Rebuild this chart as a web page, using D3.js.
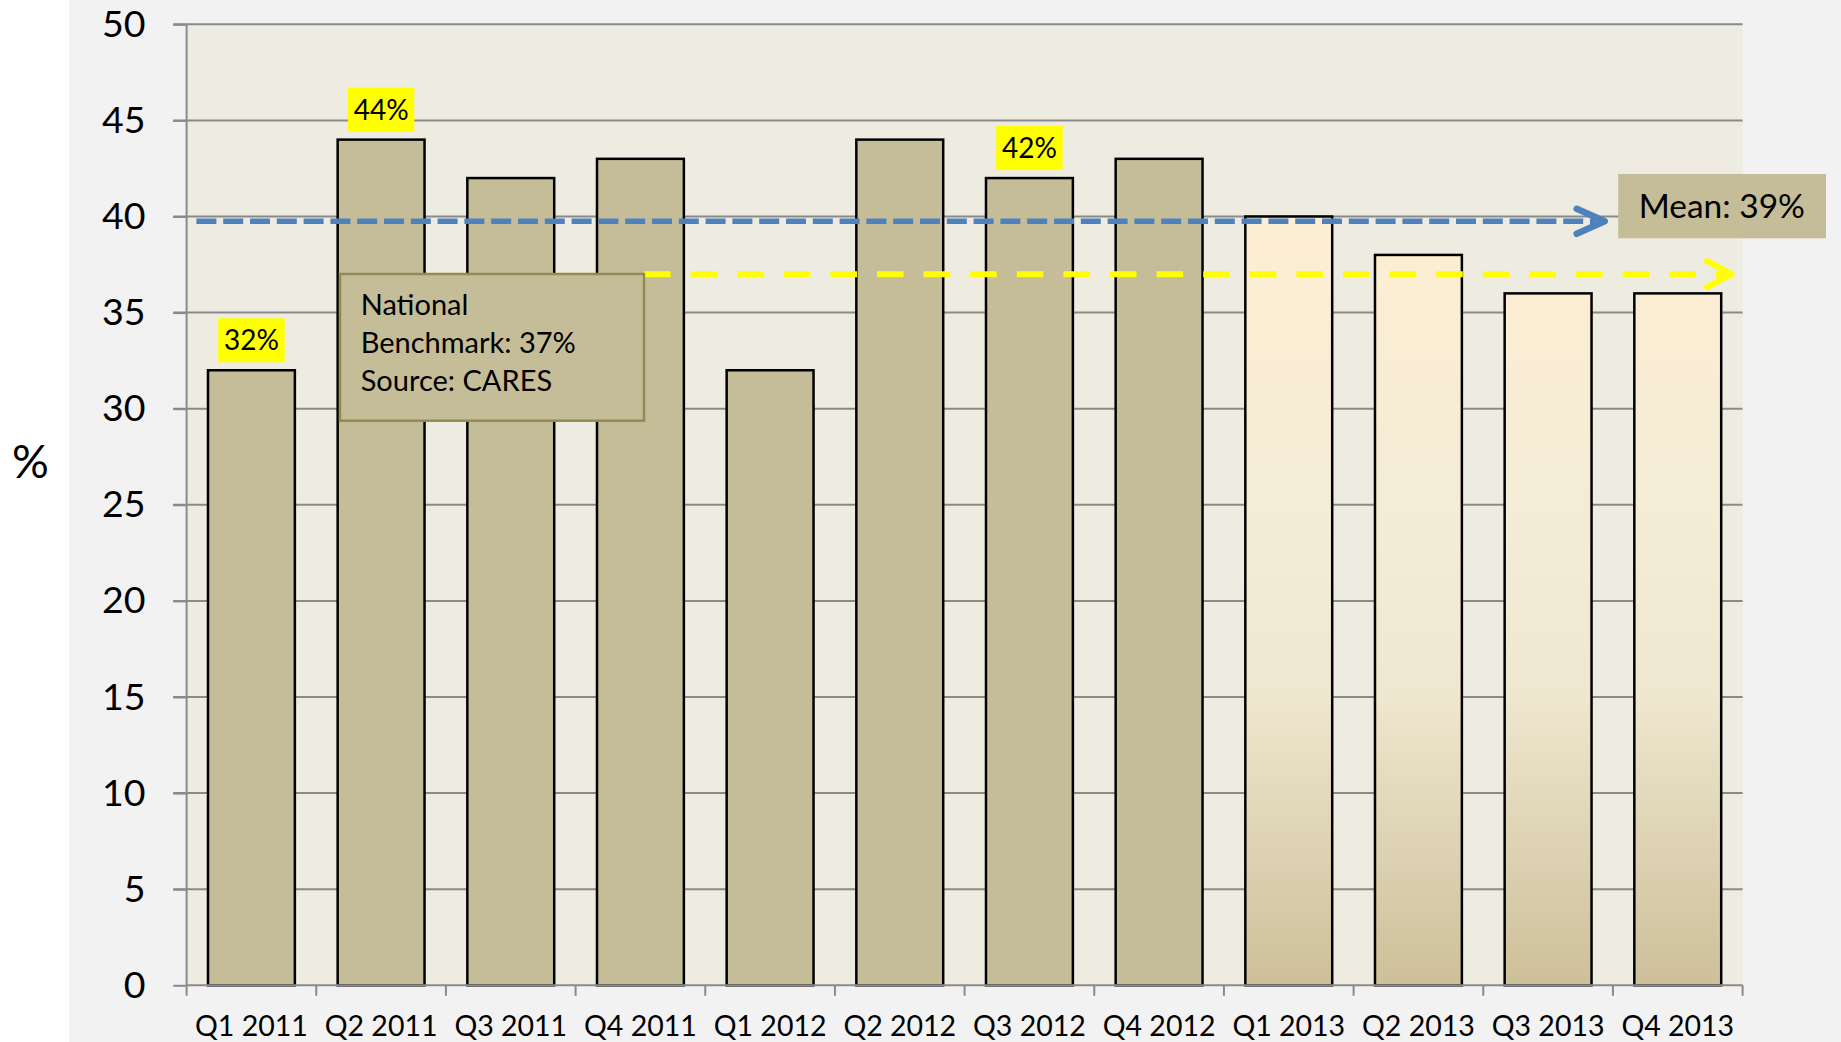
<!DOCTYPE html>
<html lang="en">
<head>
  <meta charset="UTF-8" />
  <title>Quarterly percentage with mean and national benchmark</title>
  <script src="https://d3js.org/d3.v7.min.js"></script>
  <style>
    body { margin: 0; background: #fff; font-family: Lato, "Noto Sans", sans-serif; }
    svg { display: block; }
  </style>
</head>
<body>
  <svg width="1841" height="1042"></svg>
  <script>
    // data
    const quarters = ["Q1 2011", "Q2 2011", "Q3 2011", "Q4 2011", "Q1 2012", "Q2 2012",
                      "Q3 2012", "Q4 2012", "Q1 2013", "Q2 2013", "Q3 2013", "Q4 2013"];
    const values = [32, 44, 42, 43, 32, 44, 42, 43, 40, 38, 36, 36];
    const shadedQuarters = ["Q1 2013", "Q2 2013", "Q3 2013", "Q4 2013"];
    const labelledQuarters = ["Q1 2011", "Q2 2011", "Q3 2012"];
    const yTicks = [0, 5, 10, 15, 20, 25, 30, 35, 40, 45, 50];
    const meanLevel = 39.75;           // where the mean arrow is drawn
    const meanText = "Mean: 39%";
    const benchmarkLevel = 37;
    const benchmarkText = ["National", "Benchmark: 37%", "Source: CARES"];

    const svg = d3.select("svg");
    const W = 1841, H = 1042;
    const pLeft = 186.6, pRight = 1742.6, pTop = 24.3, pBottom = 985.3;

    const x = d3.scaleBand().domain(quarters).range([pLeft, pRight])
      .paddingInner(0.33).paddingOuter(0.165);
    const y = d3.scaleLinear().domain([0, 50]).range([pBottom, pTop]);

    // backgrounds
    svg.append("rect").attr("x", 69).attr("y", 0).attr("width", W - 69).attr("height", H).attr("fill", "#f2f2f2");
    svg.append("rect").attr("x", pLeft).attr("y", pTop).attr("width", pRight - pLeft).attr("height", pBottom - pTop).attr("fill", "#eeece1");

    // gradient for 2013 bars
    const grad = svg.append("defs").append("linearGradient")
      .attr("id", "g2013").attr("gradientUnits", "userSpaceOnUse")
      .attr("x1", 0).attr("x2", 0).attr("y1", y(40)).attr("y2", y(0));
    [[0, "#fdeed2"], [0.4, "#f4ecd6"], [0.62, "#efe7cf"], [1, "#cdc099"]].forEach(([o, c]) =>
      grad.append("stop").attr("offset", o).attr("stop-color", c));

    // gridlines
    svg.append("g").selectAll("line").data(yTicks.filter(d => d > 0)).join("line")
      .attr("x1", pLeft - 13.4).attr("x2", pRight)
      .attr("y1", d => y(d)).attr("y2", d => y(d))
      .attr("stroke", "#8a8a8a").attr("stroke-width", 2);

    // y axis
    const yAxis = svg.append("g").attr("transform", `translate(${pLeft},0)`)
      .call(d3.axisLeft(y).tickValues(yTicks).tickSize(13.4).tickPadding(27.7));
    yAxis.select(".domain").attr("stroke", "#8a8a8a").attr("stroke-width", 2).attr("d", `M0,${pTop}V${pBottom}`);
    yAxis.selectAll(".tick line").attr("stroke", "#8a8a8a").attr("stroke-width", 2);
    yAxis.selectAll("text").attr("font-family", "Lato, sans-serif").attr("font-size", 37.5).attr("fill", "#000");

    // bars
    svg.append("g").selectAll("rect").data(quarters).join("rect")
      .attr("x", d => x(d)).attr("width", x.bandwidth())
      .attr("y", (d, i) => y(values[i])).attr("height", (d, i) => y(0) - y(values[i]))
      .attr("fill", d => shadedQuarters.includes(d) ? "url(#g2013)" : "#c4bd97")
      .attr("stroke", "#000").attr("stroke-width", 2.5);

    // x axis line and boundary ticks
    svg.append("line").attr("x1", pLeft).attr("x2", pRight).attr("y1", pBottom).attr("y2", pBottom)
      .attr("stroke", "#8a8a8a").attr("stroke-width", 2);
    const step = x.step();
    const bounds = d3.range(quarters.length + 1).map(i => pLeft + i * step);
    svg.append("g").selectAll("line").data(bounds).join("line")
      .attr("x1", d => d).attr("x2", d => d).attr("y1", pBottom).attr("y2", pBottom + 10.5)
      .attr("stroke", "#8a8a8a").attr("stroke-width", 2);

    const xAxis = svg.append("g").attr("transform", `translate(0,${pBottom})`)
      .call(d3.axisBottom(x).tickSize(0).tickPadding(30.5));
    xAxis.select(".domain").remove();
    xAxis.selectAll("text").attr("font-family", "Lato, sans-serif").attr("font-size", 28.5).attr("fill", "#000");

    // benchmark dashed arrow (yellow)
    const yb = y(benchmarkLevel);
    svg.append("line").attr("x1", 644).attr("x2", 1727).attr("y1", yb).attr("y2", yb)
      .attr("stroke", "#ffff00").attr("stroke-width", 6).attr("stroke-dasharray", "26.6 20");
    svg.append("path").attr("d", `M${1731.5 - 24.5},${yb - 13}L1731.5,${yb}L${1731.5 - 24.5},${yb + 13}`)
      .attr("fill", "none").attr("stroke", "#ffff00").attr("stroke-width", 6)
      .attr("stroke-linecap", "round").attr("stroke-linejoin", "round");

    // benchmark box
    svg.append("rect").attr("x", 340).attr("y", 274).attr("width", 304).attr("height", 146.7)
      .attr("fill", "#c4bd97").attr("stroke", "#948a54").attr("stroke-width", 2.5);
    svg.append("g").selectAll("text").data(benchmarkText).join("text")
      .attr("x", 360.7).attr("y", (d, i) => 315 + i * 37.9)
      .attr("font-size", 29).attr("fill", "#000").text(d => d);

    // mean dashed arrow (blue)
    const ym = y(meanLevel);
    svg.append("line").attr("x1", 196.4).attr("x2", 1596).attr("y1", ym).attr("y2", ym)
      .attr("stroke", "#4f81bd").attr("stroke-width", 5.5).attr("stroke-dasharray", "20 6.8");
    svg.append("path").attr("d", `M${1604.7 - 28},${ym - 12.5}L1604.7,${ym}L${1604.7 - 28},${ym + 12.5}`)
      .attr("fill", "none").attr("stroke", "#4f81bd").attr("stroke-width", 6.5)
      .attr("stroke-linecap", "round").attr("stroke-linejoin", "round");

    // yellow data labels
    const lab = svg.append("g").selectAll("g").data(labelledQuarters).join("g")
      .attr("transform", d => `translate(${x(d) + x.bandwidth() / 2},${y(values[quarters.indexOf(d)]) - 8})`);
    lab.append("rect").attr("x", -33.25).attr("y", -44).attr("width", 66.5).attr("height", 44).attr("fill", "#ffff00");
    lab.append("text").attr("y", -22).attr("dy", "0.36em").attr("text-anchor", "middle")
      .attr("font-size", 28).attr("fill", "#000")
      .text(d => values[quarters.indexOf(d)] + "%");

    // mean box
    svg.append("rect").attr("x", 1618.2).attr("y", 174).attr("width", 207.8).attr("height", 64.3).attr("fill", "#c4bd97");
    svg.append("text").attr("x", 1638.7).attr("y", 218.3).attr("font-size", 33.5).attr("fill", "#000").text(meanText);

    // axis title
    svg.append("text").attr("x", 30.5).attr("y", 461).attr("dy", "0.36em").attr("text-anchor", "middle")
      .attr("font-size", 46).attr("fill", "#000").text("%");
  </script>
</body>
</html>
